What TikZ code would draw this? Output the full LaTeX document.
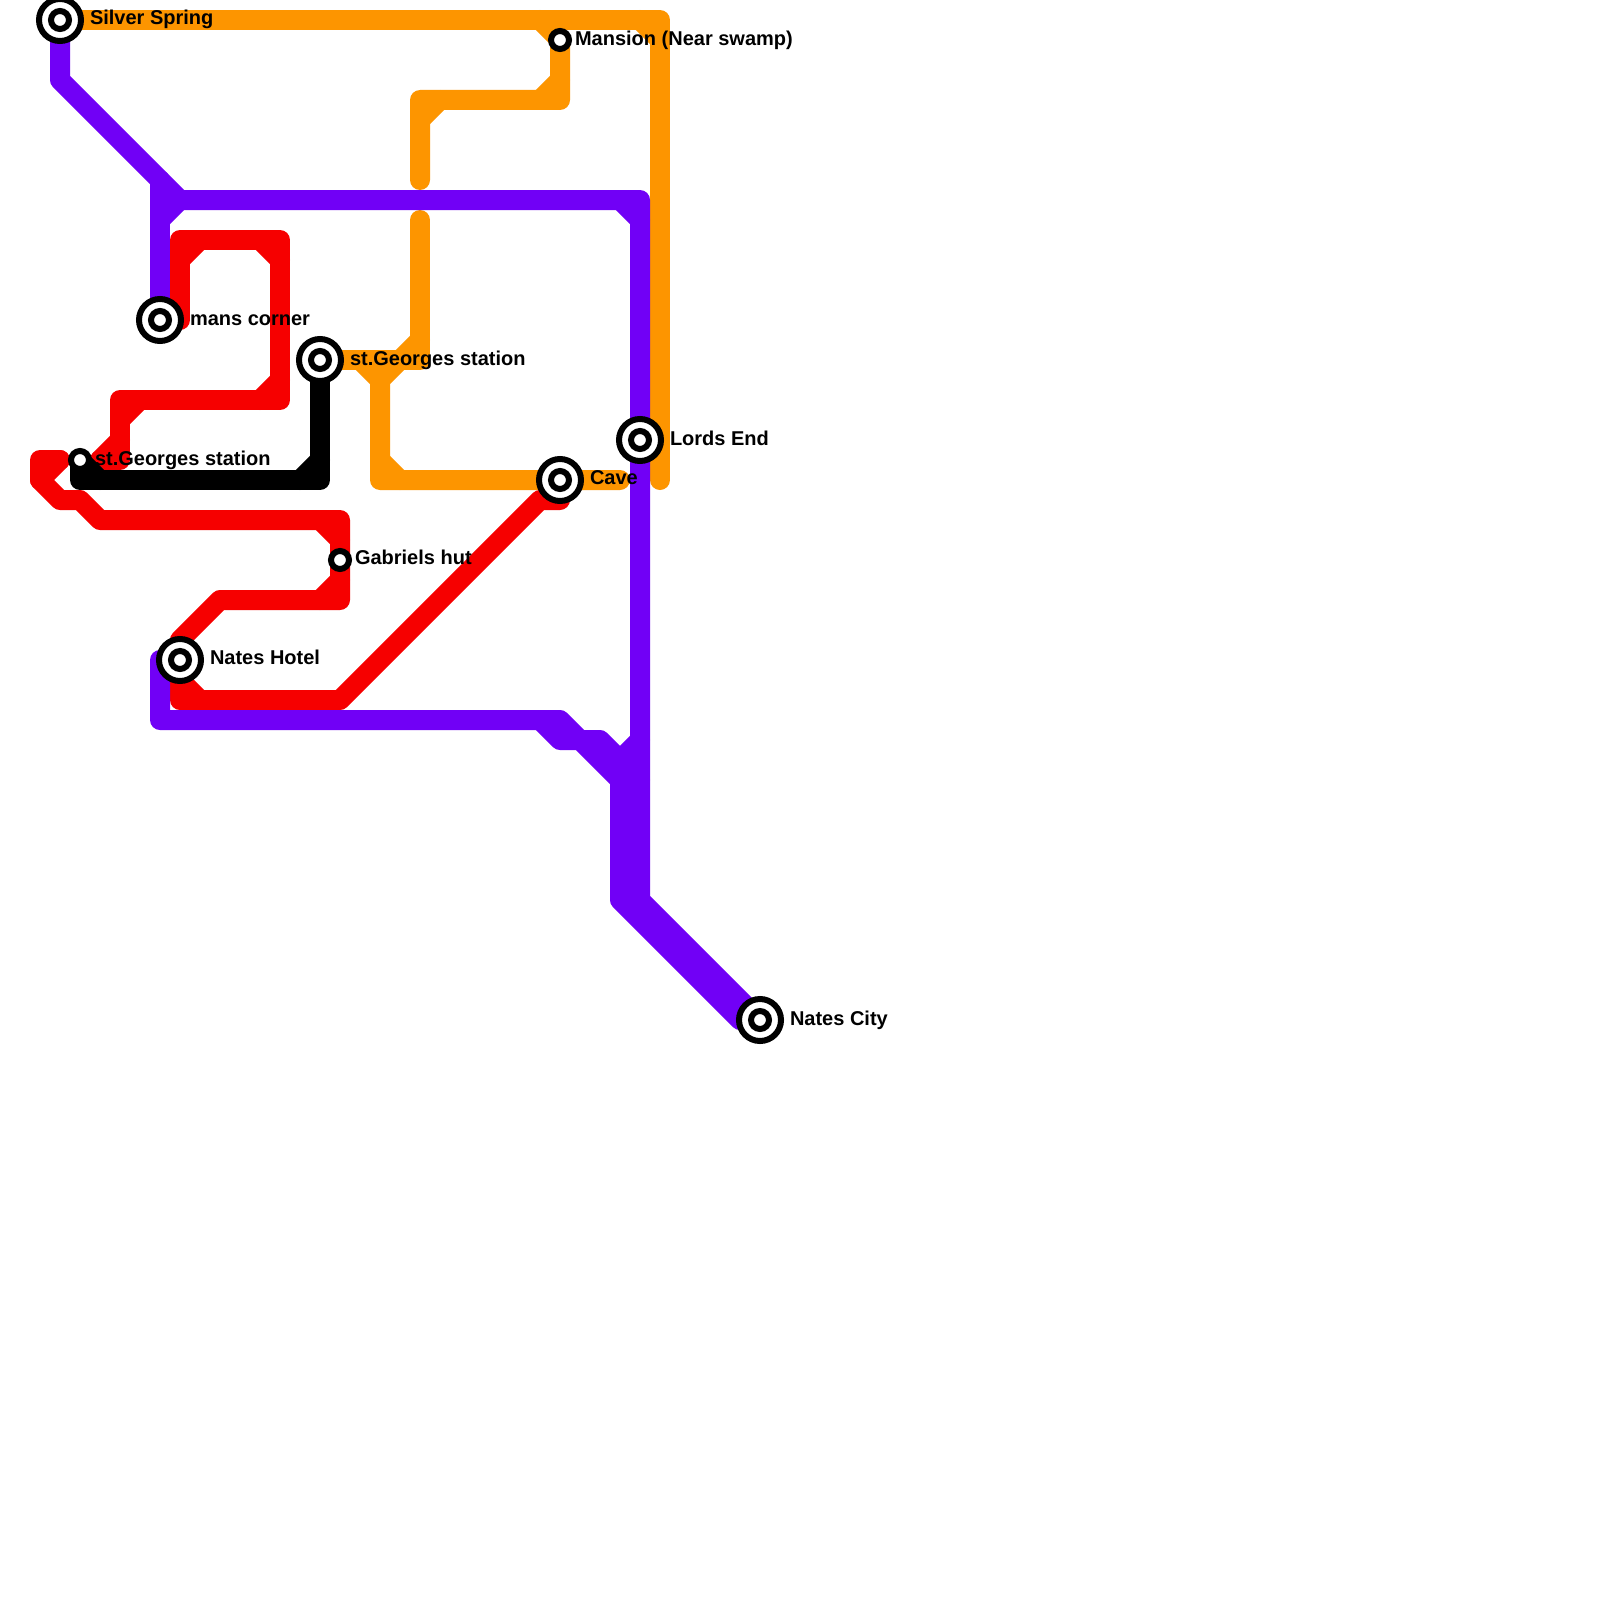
\documentclass[tikz,border=0pt]{standalone}
\usepackage{fontspec}
\setmainfont{Liberation Sans}
\definecolor{lineorange}{HTML}{FD9500}
\definecolor{linered}{HTML}{F60000}
\definecolor{linepurple}{HTML}{7100F6}
\pgfdeclarelayer{lines}
\pgfsetlayers{lines,main}
\tikzset{
  metro/.style={line width=20pt,line cap=round,line join=round},
  orangeline/.style={metro,draw=lineorange},
  redline/.style={metro,draw=linered},
  purpleline/.style={metro,draw=linepurple},
  blackline/.style={metro,draw=black},
  bigstation/.style={circle,draw=black,fill=white,line width=6pt,minimum size=42pt,inner sep=0pt,outer sep=0pt},
  corering/.style={draw=black,line width=6pt},
  smallstation/.style={circle,draw=black,fill=white,line width=6pt,minimum size=18pt,inner sep=0pt,outer sep=0pt},
  stationlabel/.style={anchor=base west,inner sep=0pt,outer sep=0pt,font=\fontsize{20}{24}\selectfont\bfseries,text=black}
}
\begin{document}
\begin{tikzpicture}[x=1pt,y=-1pt]
\useasboundingbox (0,0) rectangle (1600,1600);
% stations
\node[bigstation] (silver) at (60,20) {};
\node[smallstation] (mansion) at (560,40) {};
\node[bigstation] (mans) at (160,320) {};
\node[bigstation] (georgesbig) at (320,360) {};
\node[bigstation] (lords) at (640,440) {};
\node[smallstation] (georgessmall) at (80,460) {};
\node[bigstation] (cave) at (560,480) {};
\node[smallstation] (gabriels) at (340,560) {};
\node[bigstation] (hotel) at (180,660) {};
\node[bigstation] (city) at (760,1020) {};
\foreach \st in {silver,mans,georgesbig,lords,cave,hotel,city}
  \path[corering] (\st.center) circle (9pt);
% labels
\node[stationlabel] (lsilver) at (90,24.5) {Silver Spring};
\node[stationlabel] (lmansion) at (575,45.5) {Mansion (Near swamp)};
\node[stationlabel] (lmans) at (190,325) {mans corner};
\node[stationlabel] (lgeorgesbig) at (350,365) {st.Georges station};
\node[stationlabel] (llords) at (670,445) {Lords End};
\node[stationlabel] (lgeorgessmall) at (95,465) {st.Georges station};
\node[stationlabel] (lcave) at (590,484.5) {Cave};
\node[stationlabel] (lgabriels) at (355,564.5) {Gabriels hut};
\node[stationlabel] (lhotel) at (210,664.5) {Nates Hotel};
\node[stationlabel] (lcity) at (790,1025) {Nates City};
% free ends
\coordinate (orangeUpperEnd) at (420,180);
\coordinate (orangeLowerEnd) at (420,220);
\coordinate (orangeCaveEnd) at (620,480);
\coordinate (orangeRightEnd) at (660,480);
\coordinate (redUpperEnd) at (100,460);
\coordinate (redLowerEnd) at (60,460);
\begin{pgfonlayer}{lines}
\fill[white] (0,0) rectangle (1600,1600);
% orange
\draw[orangeline] (silver.center) -- (660,20) -- (orangeRightEnd);
\draw[orangeline] (640,20) -- (660,40);
\draw[orangeline] (540,20) -- (mansion.center) -- (560,100) -- (420,100) -- (orangeUpperEnd);
\draw[orangeline] (560,80) -- (540,100);
\draw[orangeline] (440,100) -- (420,120);
\draw[orangeline] (georgesbig.center) -- (420,360) -- (orangeLowerEnd);
\draw[orangeline] (420,340) -- (400,360) -- (380,380) -- (380,480) -- (cave.center) -- (orangeCaveEnd);
\draw[orangeline] (360,360) -- (380,380);
\draw[orangeline] (380,460) -- (400,480);
% red
\draw[redline] (mans.center) -- (180,320) -- (180,240) -- (280,240) -- (280,400) -- (120,400) -- (120,460) -- (redUpperEnd);
\draw[redline] (200,240) -- (180,260);
\draw[redline] (260,240) -- (280,260);
\draw[redline] (280,380) -- (260,400);
\draw[redline] (140,400) -- (120,420);
\draw[redline] (120,440) -- (redUpperEnd);
\draw[redline] (redLowerEnd) -- (40,460) -- (40,480) -- (60,500) -- (80,500) -- (100,520) -- (340,520) -- (gabriels.center) -- (340,600) -- (220,600) -- (180,640) -- (hotel.center);
\draw[redline] (redLowerEnd) -- (40,480);
\draw[redline] (320,520) -- (340,540);
\draw[redline] (340,580) -- (320,600);
\draw[redline] (hotel.center) -- (180,700) -- (340,700) -- (540,500) -- (560,500) -- (cave.center);
\draw[redline] (180,680) -- (200,700);
% purple
\draw[purpleline] (silver.center) -- (60,80) -- (180,200) -- (640,200) -- (lords.center) -- (640,900) -- (city.center);
\draw[purpleline] (mans.center) -- (160,180);
\draw[purpleline] (180,200) -- (160,220);
\draw[purpleline] (620,200) -- (640,220);
\draw[purpleline] (hotel.center) -- (160,660) -- (160,720) -- (560,720) -- (580,740) -- (600,740) -- (640,780);
\draw[purpleline] (540,720) -- (560,740) -- (580,740) -- (620,780) -- (620,900) -- (740,1020) -- (city.center);
\draw[purpleline] (640,740) -- (620,760) -- (620,780);
% black
\draw[blackline] (georgesbig.center) -- (320,480) -- (80,480) -- (georgessmall.center);
\draw[blackline] (320,460) -- (300,480);
\draw[blackline] (georgessmall.center) -- (100,480);
\end{pgfonlayer}
\end{tikzpicture}
\end{document}
